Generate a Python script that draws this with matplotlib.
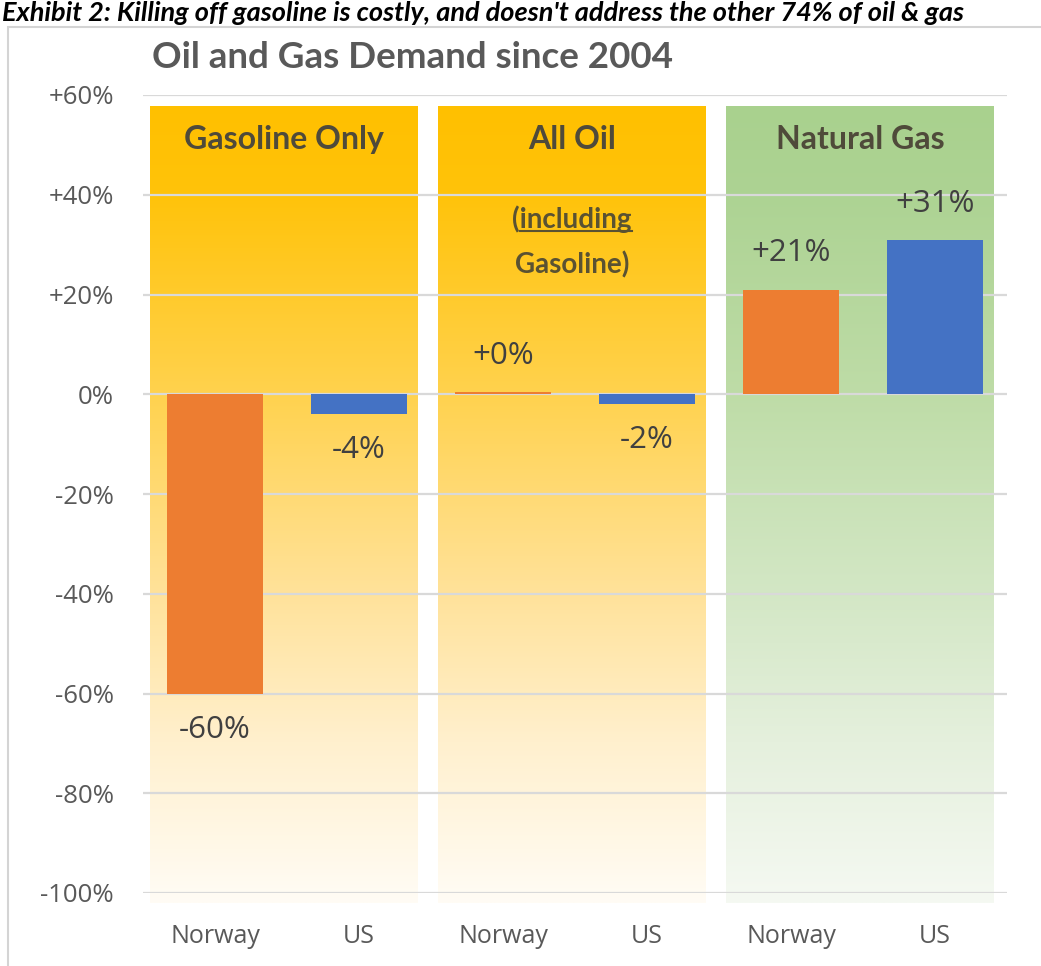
import numpy as np
import matplotlib.pyplot as plt
from matplotlib.colors import to_rgb
from matplotlib.patches import Rectangle
from matplotlib.lines import Line2D

# Data
countries = ["Norway", "US", "Norway", "US", "Norway", "US"]
change_pct = [-60, -4, 0.4, -2, 21, 31]
groups = ["Gasoline Only", "All Oil", "Natural Gas"]
y_ticks = [60, 40, 20, 0, -20, -40, -60, -80, -100]

title = "Oil and Gas Demand since 2004"
headline = ("Exhibit 2: Killing off gasoline is costly, and doesn't address "
            "the other 74% of oil & gas")

# Styles
bar_colors = ["#ED7D31", "#4472C4"] * 3
oil_stops = [(58, "#FFC000"), (40, "#FFC30A"), (0, "#FFD24E"),
             (-40, "#FFE29A"), (-70, "#FFF0CE"), (-102, "#FFFCF5")]
gas_stops = [(58, "#A9D18E"), (40, "#ADD393"), (0, "#BEDCA7"),
             (-40, "#D3E7C5"), (-70, "#E5F0DD"), (-102, "#F5F9F2")]
panel_stops = [oil_stops, oil_stops, gas_stops]
text_grey = "#595959"
head_font = ['Lato', 'DejaVu Sans']
body_font = ['Open Sans', 'DejaVu Sans']

plt.rcParams['font.family'] = body_font

fig = plt.figure(figsize=(10.41, 9.66), dpi=100)
ax = fig.add_axes([143 / 1041, 1 - 893 / 966, 864 / 1041, 798 / 966])

x = np.arange(len(countries))
ax.set_xlim(-0.5, len(countries) - 0.5)
ax.set_ylim(-100, 60)


def gradient(stops, top, bottom, n=300):
    ys = np.linspace(top, bottom, n)
    vals = [v for v, _ in stops][::-1]
    cols = np.array([to_rgb(c) for _, c in stops])[::-1]
    rgb = np.stack([np.interp(ys, vals, cols[:, k]) for k in range(3)], axis=1)
    return rgb[:, None, :]


# Shaded group panels behind the bars
for i, stops in enumerate(panel_stops):
    x0, x1 = 2 * i - 0.45, 2 * i + 1.41
    ax.imshow(gradient(stops, 57.6, -102), extent=[x0, x1, -102, 57.6],
              aspect='auto', zorder=0, clip_on=False, interpolation='bilinear')
    ax.text((x0 + x1) / 2, 51, groups[i], ha='center', va='center',
            fontsize=23, fontweight='bold', color='#4F4A3A', zorder=4,
            family=head_font)

# Grid lines
for v in y_ticks:
    ax.axhline(v, color='#D9D9D9', lw=1.6, zorder=1)

# Bars and value labels
ax.bar(x, change_pct, width=0.67, color=bar_colors, zorder=2)
for xi, v in zip(x, change_pct):
    off = 26 if v >= 0 else -26
    ax.annotate(f"{v:+.0f}%" if v >= 0 else f"{v:.0f}%", (xi, v),
                xytext=(0, off), textcoords='offset points',
                ha='center', va='center', fontsize=22.5, color='#404040',
                zorder=4)

# Sub-note in the oil panel
sub1 = ax.text(3 - 0.52, 35, "(including", ha='center', va='center',
               fontsize=20, fontweight='bold', color='#5A5232', zorder=4,
               family=head_font)
ax.text(3 - 0.52, 26, "Gasoline)", ha='center', va='center',
        fontsize=20, fontweight='bold', color='#5A5232', zorder=4,
        family=head_font)

ax.set_xticks(x)
ax.set_xticklabels(countries, fontsize=18, color=text_grey)
ax.set_yticks(y_ticks)
ax.set_yticklabels([f"+{v}%" if v > 0 else f"{v}%" for v in y_ticks],
                   fontsize=18.5, color=text_grey)
ax.tick_params(axis='both', length=0)
ax.tick_params(axis='y', pad=21)
ax.tick_params(axis='x', pad=22)
for s in ax.spines.values():
    s.set_visible(False)
ax.patch.set_visible(False)

# Outer chart frame
fig.patches.append(Rectangle((8 / 1041, -0.05), 1.1, 1.05 - 27 / 966,
                             transform=fig.transFigure, fill=False,
                             edgecolor='#D4D4D4', lw=1.5, zorder=0))

fig.text(152 / 1041, 1 - 57 / 966, title, ha='left', va='center',
         fontsize=26.5, fontweight='bold', color=text_grey, family=head_font)
fig.text(0.002, 1 - 21 / 966, headline, ha='left', va='baseline',
         fontsize=19.5, fontweight='bold', fontstyle='italic', color='black',
         family=head_font)

# Underline "including"
fig.canvas.draw()
r = fig.canvas.get_renderer()
bb = sub1.get_window_extent(r)
tmp = ax.text(0, 0, "(", fontsize=20, fontweight='bold', family=head_font)
w_paren = tmp.get_window_extent(r).width
tmp.remove()
uy = bb.y0 + 0.1 * bb.height
p0 = fig.transFigure.inverted().transform([(bb.x0 + w_paren, uy), (bb.x1, uy)])
fig.lines.append(Line2D(p0[:, 0], p0[:, 1], transform=fig.transFigure,
                        color='#5A5232', lw=1.5))

fig.savefig("out.png", dpi=100)
